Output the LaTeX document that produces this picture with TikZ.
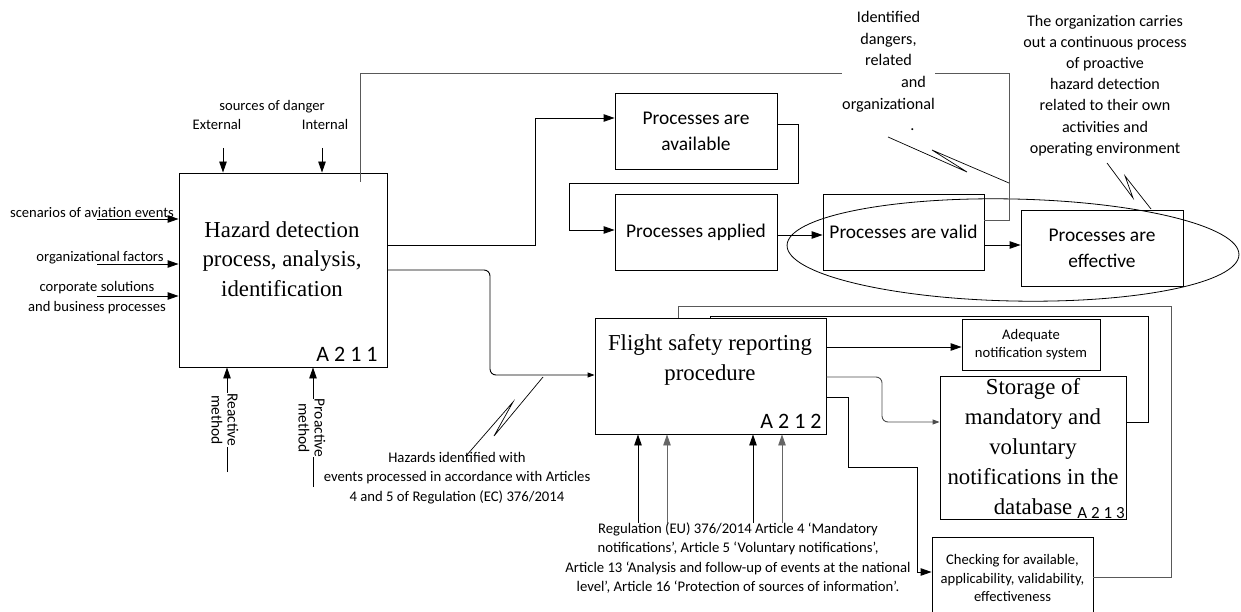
\documentclass[tikz,border=0pt]{standalone}
\usepackage{fontspec}
\setmainfont{Carlito}
\newfontfamily\seriffont{Liberation Serif}
\usetikzlibrary{arrows.meta,shapes.geometric}
\begin{document}
\begin{tikzpicture}[x=1pt,y=1pt,
  every node/.style={inner sep=0pt},
  ln/.style={line width=0.9pt},
  gln/.style={line width=0.9pt, draw=black!65},
  thn/.style={line width=0.7pt},
  box/.style={draw, line width=0.9pt, inner sep=0pt},
  lbl/.style={font=\fontsize{14.6}{20}\selectfont, align=center},
  pbox/.style={font=\fontsize{19.4}{26}\selectfont, align=center},
  sbox/.style={font=\fontsize{14.6}{18.5}\selectfont, align=center},
  ttl/.style={font=\seriffont\fontsize{22.8}{29.5}\selectfont, align=center},
  idl/.style={font=\fontsize{22}{22}\selectfont},
  arr/.style={line width=0.9pt, -{Triangle[length=11pt,width=7.5pt]}},
  sarr/.style={line width=0.9pt, -{Triangle[length=7pt,width=5pt]}}
]
\path[use as bounding box] (0,0) rectangle (1241,-612);
\clip (0,0) rectangle (1241,-612);

% ---------- boxes ----------
\node[box, minimum width=208pt, minimum height=194pt] (hz) at (283,-270) {};
\node[ttl] (hzt) at (282,-259) {Hazard detection\\process, analysis,\\identification};
\node[idl] (hzn) at (347,-354) {A 2 1 1};

\node[box, pbox, minimum width=162pt, minimum height=76pt] (av) at (696,-131) {Processes are\\available};
\node[box, pbox, minimum width=162pt, minimum height=76pt] (ap) at (696,-232) {Processes applied};
\node[box, pbox, minimum width=161pt, minimum height=76pt] (va) at (903.5,-232) {Processes are valid};
\node[box, pbox, minimum width=162pt, minimum height=76pt] (ef) at (1102,-248) {Processes are\\effective};

\node[draw, ellipse, line width=0.8pt, minimum width=452pt, minimum height=102pt, rotate=-1.2] (el) at (1013,-250) {};

\node[box, minimum width=231pt, minimum height=116pt] (fl) at (710.5,-376) {};
\node[ttl] (flt) at (710,-360) {Flight safety reporting\\procedure};
\node[idl] (fln) at (791,-421) {A 2 1 2};

\node[box, sbox, minimum width=138pt, minimum height=51pt] (ad) at (1031,-344.5) {Adequate\\notification system};
\node[box, minimum width=186pt, minimum height=143pt] (st) at (1033,-447.5) {};
\node[font=\seriffont\fontsize{22.8}{30}\selectfont, align=center] (stt) at (1033,-447) {Storage of\\mandatory and\\voluntary\\notifications in the\\database};
\node[font=\fontsize{17}{18}\selectfont] (stn) at (1101,-513) {A 2 1 3};

\node[box, sbox, minimum width=161pt, minimum height=82pt] (ch) at (1012.5,-578) {Checking for available,\\applicability, validability,\\effectiveness};

% ---------- inputs of A211 ----------
\node[lbl] (sd) at (272,-107) {sources of danger};
\node[lbl] (ext) at (217,-124) {External};
\node[lbl] (int) at (325,-124) {Internal};
\coordinate (e0) at (223,-148);
\coordinate (i0) at (322,-148);
\draw[arr] (e0) -- (e0 |- hz.north);
\draw[arr] (i0) -- (i0 |- hz.north);

\node[lbl] (sc) at (92,-213) {scenarios of aviation events};
\node[lbl] (of) at (100,-258) {organizational factors};
\node[lbl] (cs) at (97,-298) {corporate solutions\\and business processes};
\coordinate (sc0) at (97,-219);
\coordinate (of0) at (97,-264);
\coordinate (cs0) at (97,-296);
\draw[arr] (sc0) -- (sc0 -| hz.west);
\draw[arr] (of0) -- (of0 -| hz.west);
\draw[arr] (cs0) -- (cs0 -| hz.west);

\coordinate (rb) at (227,-472);
\coordinate (pb) at (313,-487);
\draw[arr] (rb) -- (rb |- hz.south);
\draw[arr] (pb) -- (pb |- hz.south);
\node[lbl, font=\fontsize{15.5}{16}\selectfont, rotate=-90, fill=white] (rm) at (225,-420) {Reactive\\method};
\node[lbl, font=\fontsize{15.5}{16}\selectfont, rotate=-90, fill=white] (pm) at (312,-428) {Proactive\\method};

% ---------- feedback line with "Identified dangers" ----------
\coordinate (g1) at (360,-182);
\draw[gln] (va.east |- 0,-220) -| (1009,-73) -| (g1);
\node[lbl, font=\fontsize{16.2}{21.7}\selectfont, fill=white] (idd) at (888.5,-71) {Identified\\dangers,\\related\\\hspace*{50pt}and\\organizational\\\hspace*{48pt}.};
\coordinate (q1) at (888,-137);
\draw[thn] (q1) -- (967,-172) -- (932,-150) -- (1009,-183);

\node[lbl, font=\fontsize{16.1}{21.2}\selectfont] (org) at (1105,-85.5) {The organization carries\\out a continuous process\\of proactive\\hazard detection\\related to their own\\activities and\\operating environment};
\coordinate (q2) at (1107,-163);
\draw[thn] (q2) -- (1133,-198) -- (1125,-176) -- (1151,-209);

% ---------- process chain ----------
\draw[arr] (hz.east |- 0,-245) -| (535,-118) -- (av.west |- 0,-118);
\draw[arr] (av.east |- 0,-124) -| (798,-183) -| (569,-230) -- (ap.west |- 0,-230);
\draw[arr] (ap.east |- 0,-235) -- (va.west |- 0,-235);
\draw[arr] (va.east |- 0,-245) -- (ef.west |- 0,-245);

% ---------- A211 -> A212 ----------
\draw[sarr, rounded corners=6pt] (hz.east |- 0,-270) -| (490,-375) -- (fl.west |- 0,-375);
\coordinate (q3) at (543,-377);
\draw[thn] (q3) -- (494,-436) -- (513,-402) -- (466,-456);
\node[lbl, font=\fontsize{14.7}{19.5}\selectfont] (hzd) at (457,-478) {Hazards identified with\\events processed in accordance with Articles\\4 and 5 of Regulation (EC) 376/2014};

% ---------- controls of A212 ----------
\coordinate (b1) at (638,-523);
\coordinate (b2) at (667,-523);
\coordinate (b3) at (753,-523);
\coordinate (b4) at (782,-523);
\draw[arr] (b1) -- (b1 |- fl.south);
\draw[arr, draw=black!60] (b2) -- (b2 |- fl.south);
\draw[arr] (b3) -- (b3 |- fl.south);
\draw[arr, draw=black!60] (b4) -- (b4 |- fl.south);
\node[lbl, font=\fontsize{14.7}{19.3}\selectfont] (reg) at (738,-558) {Regulation (EU) 376/2014 Article 4 ‘Mandatory\\notifications’, Article 5 ‘Voluntary notifications’,\\Article 13 ‘Analysis and follow-up of events at the national\\level’, Article 16 ‘Protection of sources of information’.};

% ---------- outputs of A212 ----------
\draw[arr] (fl.east |- 0,-347) -- (ad.west |- 0,-347);
\draw[sarr, rounded corners=6pt, draw=black!70] (fl.east |- 0,-377) -| (882,-422) -- (st.west |- 0,-422);
\draw[arr] (fl.east |- 0,-397) -| (848,-467) -| (917,-572) -- (ch.west |- 0,-572);

% ---------- feedback loops ----------
\draw[ln] (st.east |- 0,-422) -| (1148,-316) -| (fl.north -| 710,0);
\draw[gln] (ch.east |- 0,-577) -| (1171,-306) -| (fl.north -| 678,0);
\end{tikzpicture}
\end{document}
